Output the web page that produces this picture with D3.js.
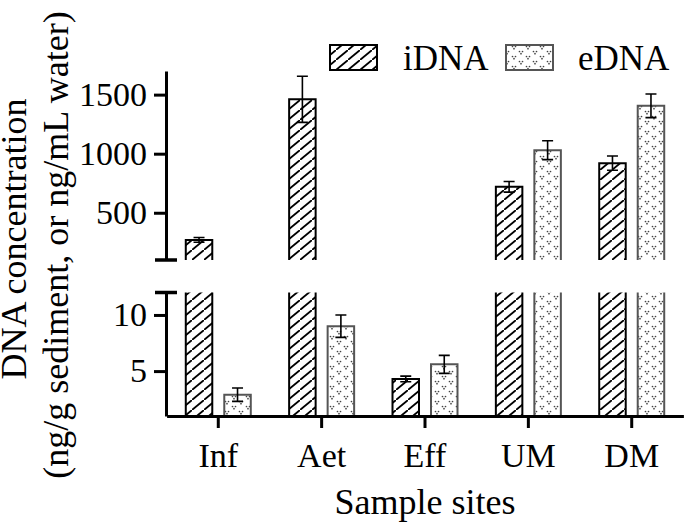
<!DOCTYPE html>
<html>
<head>
<meta charset="utf-8">
<script src="https://cdn.jsdelivr.net/npm/d3@7"></script>
<style>
body { margin: 0; background: #fff; }
.axis path, .axis line { stroke: #000; stroke-width: 3; }
</style>
</head>
<body>
<svg width="685" height="529"></svg>
<script>
// data
var sites = ['Inf', 'Aet', 'Eff', 'UM', 'DM'];
var iDNA = [270, 1460, 4.3, 720, 920];
var iDNAerr = [20, 195, 0.25, 45, 60];
var eDNA = [2.9, 9.0, 5.6, 1030, 1405];
var eDNAerr = [0.6, 1.0, 0.8, 80, 100];
var upperTicks = [500, 1000, 1500];
var lowerTicks = [5, 10];
var upperDomain = [100, 1700];
var lowerDomain = [1, 12];

var serif = "'Liberation Serif', 'Times New Roman', Times, serif";

var svg = d3.select('svg').attr('font-family', serif);
var defs = svg.append('defs');

// hatch for iDNA
var hatch = defs.append('pattern').attr('id', 'hatch')
	.attr('patternUnits', 'userSpaceOnUse')
	.attr('width', 12).attr('height', 10);
hatch.append('path')
	.attr('d', 'M-3,12.5 L15,-2.5')
	.attr('stroke', '#000').attr('stroke-width', 1.8);

// little "v" dots for eDNA
var dots = defs.append('pattern').attr('id', 'dots')
	.attr('patternUnits', 'userSpaceOnUse')
	.attr('width', 14).attr('height', 10);
[[3, 2.5], [10, 7.5]].forEach(function(c) {
	[[-1.5, -1], [1.5, -1], [0, 1.2]].forEach(function(o) {
		dots.append('circle').attr('cx', c[0] + o[0]).attr('cy', c[1] + o[1])
			.attr('r', 0.85).attr('fill', '#444');
	});
});

//scales
var x = d3.scaleBand().domain(sites).range([166.6, 683.4]);
var yUp = d3.scaleLinear().domain(upperDomain).range([260, 71]);
var yLow = d3.scaleLinear().domain(lowerDomain).range([416, 292.5]);

var series = [
	{name: 'iDNA', vals: iDNA, errs: iDNAerr, off: -32.5, fill: 'url(#hatch)', stroke: '#000'},
	{name: 'eDNA', vals: eDNA, errs: eDNAerr, off: 6, fill: 'url(#dots)', stroke: '#555'}
];
var bw = 26.5;

var g = svg.append('g');

series.forEach(function(s) {
	s.vals.forEach(function(v, i) {
		var x0 = x(sites[i]) + x.bandwidth() / 2 + s.off;
		var x1 = x0 + bw;
		// lower segment
		var top = yLow(Math.min(v, lowerDomain[1]));
		var bot = yLow(lowerDomain[0]);
		g.append('rect').attr('x', x0).attr('y', top).attr('width', bw).attr('height', bot - top)
			.attr('fill', s.fill);
		var d = v > lowerDomain[1]
			? 'M' + x0 + ',' + bot + 'V' + top + 'M' + x1 + ',' + top + 'V' + bot
			: 'M' + x0 + ',' + bot + 'V' + top + 'H' + x1 + 'V' + bot;
		g.append('path').attr('d', d).attr('fill', 'none')
			.attr('stroke', s.stroke).attr('stroke-width', 2);
		// upper segment
		if (v > upperDomain[0]) {
			var t2 = yUp(v), b2 = yUp(upperDomain[0]);
			g.append('rect').attr('x', x0).attr('y', t2).attr('width', bw).attr('height', b2 - t2)
				.attr('fill', s.fill);
			g.append('path').attr('d', 'M' + x0 + ',' + b2 + 'V' + t2 + 'H' + x1 + 'V' + b2)
				.attr('fill', 'none').attr('stroke', s.stroke).attr('stroke-width', 2);
		}
		// error bar
		var sc = v > upperDomain[0] ? yUp : yLow;
		var cx = x0 + bw / 2;
		var e = s.errs[i];
		var ya = sc(v + e), yb = sc(v - e);
		g.append('path')
			.attr('d', 'M' + cx + ',' + ya + 'V' + yb +
				'M' + (cx - 5.5) + ',' + ya + 'H' + (cx + 5.5) +
				'M' + (cx - 5.5) + ',' + yb + 'H' + (cx + 5.5))
			.attr('fill', 'none').attr('stroke', '#000').attr('stroke-width', 1.6);
	});
});

//axes
var fmt = d3.format('d');
svg.append('g').attr('class', 'axis').attr('transform', 'translate(166,0)')
	.call(d3.axisLeft(yUp).tickValues(upperTicks).tickFormat(fmt).tickSize(12).tickSizeOuter(0).tickPadding(7));
svg.append('g').attr('class', 'axis').attr('transform', 'translate(166,0)')
	.call(d3.axisLeft(yLow).tickValues(lowerTicks).tickFormat(fmt).tickSize(12).tickSizeOuter(0).tickPadding(7));
svg.append('g').attr('class', 'axis').attr('transform', 'translate(0,416)')
	.call(d3.axisBottom(x).tickSize(12).tickSizeOuter(0).tickPadding(15));
svg.selectAll('.axis').attr('font-family', serif).attr('font-size', 34);

// break caps
svg.append('path').attr('d', 'M155,260H177M155,292.5H177')
	.attr('stroke', '#000').attr('stroke-width', 3.5);

// legend
var leg = [
	{name: 'iDNA', x: 330, tx: 403, fill: 'url(#hatch)', stroke: '#000'},
	{name: 'eDNA', x: 506, tx: 578, fill: 'url(#dots)', stroke: '#555'}
];
leg.forEach(function(l) {
	svg.append('rect').attr('x', l.x).attr('y', 45).attr('width', 47).attr('height', 25)
		.attr('fill', l.fill).attr('stroke', l.stroke).attr('stroke-width', 2);
	svg.append('text').attr('x', l.tx).attr('y', 70).attr('font-size', 35).text(l.name);
});

// titles
svg.append('text').attr('transform', 'translate(26,239) rotate(-90)')
	.attr('text-anchor', 'middle').attr('font-size', 36).text('DNA concentration');
svg.append('text').attr('transform', 'translate(68,245) rotate(-90)')
	.attr('text-anchor', 'middle').attr('font-size', 36).text('(ng/g sediment, or ng/mL water)');
svg.append('text').attr('x', 425).attr('y', 514)
	.attr('text-anchor', 'middle').attr('font-size', 36).text('Sample sites');
</script>
</body>
</html>
